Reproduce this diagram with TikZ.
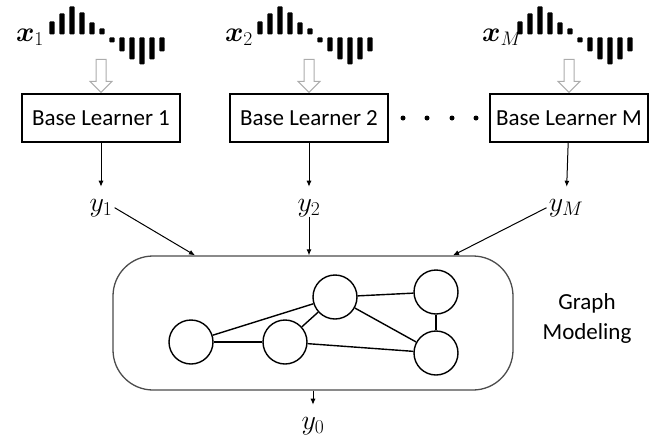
\RequirePackage{fix-cm}
\documentclass[tikz,border=0pt]{standalone}
\usepackage{amsmath}
\usepackage{fontspec}
\setmainfont{Carlito}
\usetikzlibrary{arrows.meta,positioning}

\tikzset{
	hollow/.style={draw=gray!65, line width=1pt, fill=white},
}

% input signal above a learner box
\newcommand{\waveform}[1]{%
	\begin{scope}[shift={(#1.north)}]
		\foreach \dx/\h in {-49/13,-39/21,-29/28,-19/22,-9/12,1/6}
			\fill[rounded corners=1pt] (\dx-2.7,-59) rectangle (\dx+2.7,-59-\h);
		\foreach \dx/\h in {11/5,21/14,31/22,41/27,51/22,61/14}
			\fill[rounded corners=1pt] (\dx-2.7,-56) rectangle (\dx+2.7,-56+\h);
		\draw[hollow] (-5,-34) -- (-5,-12) -- (-11,-12) -- (0,-1)
			-- (11,-12) -- (5,-12) -- (5,-34) -- cycle;
	\end{scope}}

\begin{document}
\begin{tikzpicture}[
		x=1pt, y=-1pt,
		learner/.style={
			shape=rectangle,
			draw,
			line width=1.3pt,
			minimum width=158pt,
			minimum height=48pt,
			font=\fontsize{23}{26}\selectfont,
		},
		mathlabel/.style={inner sep=0pt, font=\fontsize{28}{30}\selectfont},
		gnode/.style={circle, draw, line width=1.4pt, minimum size=44pt, inner sep=0pt},
		link/.style={-{Latex[length=6pt,width=5pt]}, line width=1pt},
	]
	\useasboundingbox (0,0) rectangle (657,437);

	\node[learner] (bl1) at (101,118) {Base Learner 1};
	\node[learner] (bl2) at (309,118) {Base Learner 2};
	\node[learner] (blM) at (569,118) {Base Learner M};

	\waveform{bl1}
	\waveform{bl2}
	\waveform{blM}

	\node[mathlabel] (x1) at (30,37) {$\boldsymbol{x}_1$};
	\node[mathlabel] (x2) at (239,37) {$\boldsymbol{x}_2$};
	\node[mathlabel] (xM) at (502,37) {$\boldsymbol{x}_M$};

	\foreach \x in {403,427,452,476}
		\fill (\x,118) circle (2.5pt);

	\node[mathlabel, anchor=base] (y1) at (101,211) {$y_1$};
	\node[mathlabel, anchor=base] (y2) at (309,211) {$y_2$};
	\node[mathlabel, anchor=base] (yM) at (566,211) {$y_M$};

	\draw[link, shorten >=12pt] (bl1) -- (y1);
	\draw[link, shorten >=12pt] (bl2) -- (y2);
	\draw[link, shorten >=12pt] (blM) -- (yM);

	\node[draw=black!70, line width=1.3pt, rounded corners=40pt,
		minimum width=400pt, minimum height=134pt] (graph) at (313,323) {};

	\draw[link] ([xshift=2pt]y1.east) -- ([xshift=-118pt]graph.north);
	\draw[link] (y2) -- (y2 |- graph.north);
	\draw[link] ([xshift=-2pt]yM.west) -- ([xshift=140pt]graph.north);

	\node[gnode] (ga) at (191,342) {};
	\node[gnode] (gb) at (285,342) {};
	\node[gnode] (gc) at (335,297) {};
	\node[gnode] (gd) at (436,292) {};
	\node[gnode] (ge) at (436,353) {};
	\foreach \a/\b in {ga/gb,ga/gc,gb/gc,gc/gd,gc/ge,gb/ge,gd/ge}
		\draw[line width=1.4pt] (\a) -- (\b);

	\node[align=center, font=\fontsize{23}{30}\selectfont] (gm) at (587,318) {Graph\\Modeling};

	\node[mathlabel, anchor=base] (y0) at (313,429) {$y_0$};
	\draw[link, shorten >=12pt] (graph) -- (y0);
\end{tikzpicture}
\end{document}
